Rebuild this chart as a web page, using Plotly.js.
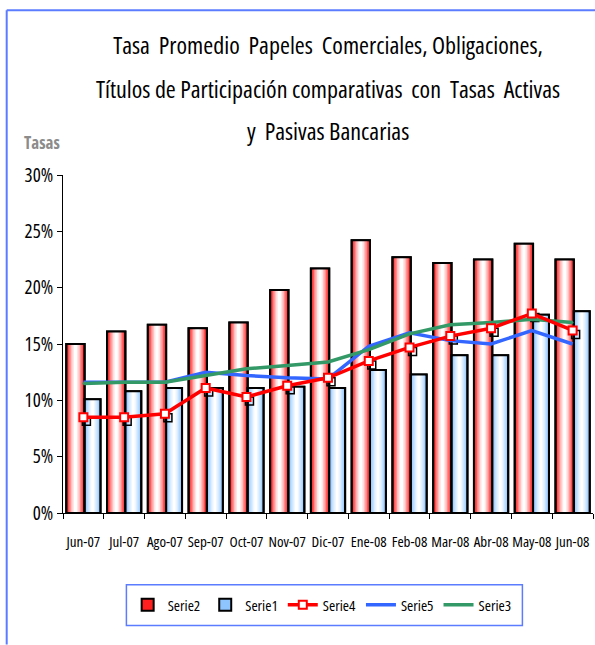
<!DOCTYPE html>
<html>
<head>
<meta charset="utf-8">
<script src="https://cdn.plot.ly/plotly-3.0.1.min.js"></script>
<style>
  html, body { margin: 0; padding: 0; background: #ffffff; }
  #chart { width: 595px; height: 645px; }
  text, tspan { font-stretch: condensed; }
</style>
</head>
<body>
<div id="chart"></div>
<script>
// ---- data ----
const categories = ["Jun-07","Jul-07","Ago-07","Sep-07","Oct-07","Nov-07","Dic-07","Ene-08","Feb-08","Mar-08","Abr-08","May-08","Jun-08"];
const serie2 = [15.0, 16.1, 16.7, 16.4, 16.9, 19.8, 21.7, 24.2, 22.7, 22.2, 22.5, 23.9, 22.5];
const serie1 = [10.1, 10.8, 11.1, 11.1, 11.1, 11.2, 11.1, 12.7, 12.3, 14.0, 14.0, 17.6, 17.9];
const serie4 = [8.5, 8.5, 8.8, 11.1, 10.3, 11.3, 12.0, 13.5, 14.7, 15.7, 16.4, 17.7, 16.2];
const serie5 = [11.6, 11.6, 11.6, 12.5, 12.2, 12.0, 11.9, 14.8, 16.0, 15.3, 15.0, 16.2, 15.0];
const serie3 = [11.5, 11.6, 11.6, 12.2, 12.8, 13.1, 13.4, 14.5, 15.9, 16.7, 16.9, 17.2, 16.9];
const yTickVals = [0, 5, 10, 15, 20, 25, 30];
const yTickText = ["0%", "5%", "10%", "15%", "20%", "25%", "30%"];
const titleLines = [
  "Tasa  Promedio  Papeles  Comerciales, Obligaciones,",
  "Títulos de Participación comparativas  con  Tasas  Activas",
  "y  Pasivas Bancarias"
];
const yLabel = "Tasas";

// ---- styling ----
const FONT = "'Open Sans', 'Roboto Condensed', sans-serif";
const redShades = ["#ff1f1f", "#ff5252", "#ff8c8c", "#ffbdbd", "#ffe4e4", "#ffffff"];
const blueShades = ["#8ec5ff", "#a9d3ff", "#c4e1ff", "#dbedff", "#eef6ff", "#ffffff"];

// pixel geometry of the plot area (used for the marker shadow offset)
const plotW = 530, plotH = 338, catCount = categories.length;
const shadowDx = 3 / (plotW / catCount);   // 3 px right, in category units
const shadowDy = 4 * 30 / plotH;           // 4 px down, in y units

function gradientBars(name, values, shades, offset, width, rank) {
  const traces = [];
  const n = shades.length;
  for (let i = 0; i < n; i++) {
    const w = width * (1 - i / n);
    traces.push({
      type: "bar", x: categories, y: values, name: name,
      width: w, offset: offset + (width - w) / 2,
      marker: { color: shades[i], line: { color: "#000", width: i === 0 ? 2 : 0 } },
      showlegend: i === 0, legendrank: rank, hoverinfo: i === 0 ? "x+y+name" : "skip"
    });
  }
  traces.push({
    type: "bar", x: categories, y: values, name: name,
    width: width, offset: offset,
    marker: { color: "rgba(0,0,0,0)", line: { color: "#000", width: 2 } },
    showlegend: false, hoverinfo: "skip"
  });
  return traces;
}

const data = [
  ...gradientBars("Serie2", serie2, redShades, -0.42, 0.45, 1),
  ...gradientBars("Serie1", serie1, blueShades, 0.03, 0.39, 2),
  // drop shadow of the Serie4 markers (same values, axes shifted by a few pixels)
  { type: "scatter", mode: "markers", x: categories, y: serie4, name: "Serie4 shadow",
    xaxis: "x2", yaxis: "y2", showlegend: false, hoverinfo: "skip",
    marker: { symbol: "square-open", size: 8, color: "#000", line: { color: "#000", width: 1.5 } } },
  { type: "scatter", mode: "lines", x: categories, y: serie5, name: "Serie5",
    xaxis: "x3", yaxis: "y3",
    line: { color: "#3366ff", width: 3.5 }, legendrank: 4 },
  { type: "scatter", mode: "lines+markers", x: categories, y: serie3, name: "Serie3",
    xaxis: "x3", yaxis: "y3",
    line: { color: "#339966", width: 3.5 }, marker: { size: 2, color: "#339966" }, legendrank: 5 },
  { type: "scatter", mode: "lines+markers", x: categories, y: serie4, name: "Serie4",
    xaxis: "x3", yaxis: "y3",
    line: { color: "#ff0000", width: 3.5 },
    marker: { symbol: "square", size: 8, color: "#ffffff", line: { color: "#ff0000", width: 2 } },
    legendrank: 3 }
];

const frameColor = "#5b7cff";
const hiddenX = { type: "category", overlaying: "x", visible: false, fixedrange: true };
const hiddenY = { overlaying: "y", visible: false, fixedrange: true };
const layout = {
  width: 595, height: 645,
  margin: { l: 63, r: 2, t: 175, b: 132 },
  paper_bgcolor: "#ffffff", plot_bgcolor: "rgba(0,0,0,0)",
  font: { family: FONT, color: "#000" },
  barmode: "overlay",
  showlegend: true,
  title: {
    text: titleLines[0], font: { family: FONT, size: 24, color: "#000" },
    x: 0.5, xref: "paper", xanchor: "center",
    y: 1 - 46 / 645, yref: "container", yanchor: "middle"
  },
  xaxis: {
    type: "category", range: [-0.5, catCount - 0.5], fixedrange: true, tickangle: 0,
    tickson: "boundaries", ticks: "outside", ticklen: 5, tickcolor: "#000", tickwidth: 1,
    showline: true, linecolor: "#000", linewidth: 1, showgrid: false, zeroline: false,
    tickfont: { family: FONT, size: 15, color: "#000" }, ticklabelstandoff: 15
  },
  yaxis: {
    range: [0, 30], fixedrange: true,
    tickvals: yTickVals, ticktext: yTickText,
    ticks: "outside", ticklen: 5, tickcolor: "#000", tickwidth: 1,
    showline: true, linecolor: "#000", linewidth: 1, showgrid: false, zeroline: false,
    tickfont: { family: FONT, size: 19, color: "#000" }
  },
  xaxis2: Object.assign({ range: [-0.5 - shadowDx, catCount - 0.5 - shadowDx] }, hiddenX),
  yaxis2: Object.assign({ range: [shadowDy, 30 + shadowDy] }, hiddenY),
  xaxis3: Object.assign({ range: [-0.5, catCount - 0.5] }, hiddenX),
  yaxis3: Object.assign({ range: [0, 30] }, hiddenY),
  legend: {
    orientation: "h", x: 0.122, xanchor: "left", y: -0.2725, yanchor: "middle",
    bgcolor: "rgba(0,0,0,0)", borderwidth: 0,
    font: { family: FONT, size: 15, color: "#000" }, itemwidth: 30
  },
  annotations: [
    { text: titleLines[1], xref: "paper", yref: "paper", x: 0.5, y: (513.3 - 88) / 338.3,
      xanchor: "center", yanchor: "middle", showarrow: false,
      font: { family: FONT, size: 24, color: "#000" } },
    { text: titleLines[2], xref: "paper", yref: "paper", x: 0.5, y: (513.3 - 130) / 338.3,
      xanchor: "center", yanchor: "middle", showarrow: false,
      font: { family: FONT, size: 24, color: "#000" } },
    { text: "<b>" + yLabel + "</b>", xref: "paper", yref: "paper", x: (42 - 63.3) / 530, y: (513.3 - 142) / 338.3,
      xanchor: "center", yanchor: "middle", showarrow: false,
      font: { family: FONT, size: 17, color: "#8c8c8c" } }
  ],
  shapes: [
    { type: "rect", xref: "paper", yref: "paper",
      x0: (126.7 - 63.3) / 530, x1: (522.7 - 63.3) / 530,
      y0: (513.3 - 626) / 338.3, y1: (513.3 - 585) / 338.3,
      line: { color: frameColor, width: 1.5 }, fillcolor: "rgba(0,0,0,0)" },
    { type: "line", xref: "paper", yref: "paper",
      x0: (7 - 63.3) / 530, x1: (7 - 63.3) / 530,
      y0: (513.3 - 645) / 338.3, y1: (513.3 - 10) / 338.3,
      line: { color: frameColor, width: 2 } },
    { type: "line", xref: "paper", yref: "paper",
      x0: (7 - 63.3) / 530, x1: (600 - 63.3) / 530,
      y0: (513.3 - 10) / 338.3, y1: (513.3 - 10) / 338.3,
      line: { color: frameColor, width: 2 } }
  ]
};

Plotly.newPlot("chart", data, layout, { displayModeBar: false, responsive: false });
</script>
</body>
</html>
